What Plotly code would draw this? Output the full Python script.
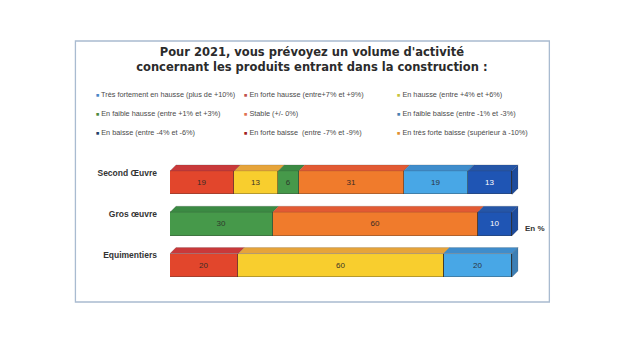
import plotly.graph_objects as go

# ---------------- data ----------------
categories = ["Second Œuvre", "Gros œuvre", "Equimentiers"]
series_names = [
    "Très fortement en hausse (plus de +10%)",
    "En forte hausse (entre+7% et +9%)",
    "En hausse (entre +4% et +6%)",
    "En faible hausse (entre +1% et +3%)",
    "Stable (+/- 0%)",
    "En faible baisse (entre -1% et -3%)",
    "En baisse (entre -4% et -6%)",
    "En forte baisse  (entre -7% et -9%)",
    "En très forte baisse (supérieur à -10%)",
]
tres_fortement_hausse = [0, 0, 0]
forte_hausse = [19, 0, 20]
hausse = [13, 0, 60]
faible_hausse = [6, 30, 0]
stable = [31, 60, 0]
faible_baisse = [19, 0, 20]
baisse = [13, 10, 0]
forte_baisse = [0, 0, 0]
tres_forte_baisse = [0, 0, 0]
series_values = [tres_fortement_hausse, forte_hausse, hausse, faible_hausse, stable,
                 faible_baisse, baisse, forte_baisse, tres_forte_baisse]

# ---------------- styles ----------------
front_colors = ["#4A86C8", "#E2462C", "#F8CE2E", "#46994A", "#F07B2C",
                "#48A7E6", "#1F55B4", "#A82A30", "#E49A30"]
legend_colors = ["#4A86C8", "#C0504D", "#C8C43C", "#4E8A3E", "#E07050",
                 "#4A80B0", "#23406A", "#A02020", "#E09030"]
top_colors = ["#3F7FC0", "#C9393A", "#E6A43A", "#3B8A43", "#E25A33",
              "#3F8DCC", "#2556A8", "#90252A", "#D08A28"]
side_colors = ["#3A72AE", "#B0332A", "#D9A628", "#357C3C", "#C8642A",
               "#3C7EB4", "#1D4B9C", "#80222A", "#C07E26"]
text_colors = ["#333", "#3a2c26", "#3a3426", "#2e3a2c", "#3a2c26",
               "#2c3440", "#FFFFFF", "#FFF", "#333"]
W = 0.57     # bar thickness (category units)
DX = 1.75    # 3D depth along x (percent units)
DY = 0.145   # 3D depth along y (category units)
FONT = "Liberation Sans, Arial, sans-serif"
legend_ids = ["legend", "legend2", "legend3"]   # one legend per column

ypos = list(range(len(categories)))
fig = go.Figure()

for k, (name, vals) in enumerate(zip(series_names, series_values)):
    fig.add_trace(go.Bar(
        y=ypos, x=vals, orientation="h", width=W, name=name,
        showlegend=False,
        marker=dict(color=front_colors[k], line=dict(color="rgba(50,50,50,0.55)", width=0.6)),
        text=[str(v) if v else "" for v in vals],
        textposition="inside", insidetextanchor="middle",
        textfont=dict(size=8, color=text_colors[k], family=FONT),
        constraintext="none", hoverinfo="skip",
    ))
    # legend entry: small coloured square glyph right next to the label (3 columns)
    fig.add_trace(go.Scatter(
        x=[None], y=[None], mode="markers",
        name=f'<span style="color:{legend_colors[k]};font-size:5.5px">■</span> {name}',
        legend=legend_ids[k % 3],
        marker=dict(symbol="square", size=1, color="rgba(0,0,0,0)",
                    line=dict(width=0, color="rgba(0,0,0,0)")),
        showlegend=True,
    ))

# 3D top faces and right side faces derived from the stacked (normalised) values
shapes = []
for i in ypos:
    total = sum(s[i] for s in series_values)
    cum = 0
    last = None
    ytop = i - W / 2
    for k, vals in enumerate(series_values):
        v = vals[i]
        if not v:
            continue
        x0 = cum / total * 100
        cum += v
        x1 = cum / total * 100
        shapes.append(dict(
            type="path", xref="x", yref="y", layer="above",
            path=f"M{x0},{ytop} L{x1},{ytop} L{x1 + DX},{ytop - DY} L{x0 + DX},{ytop - DY} Z",
            fillcolor=top_colors[k], line=dict(color="rgba(50,50,50,0.35)", width=0.5)))
        last = k
    xe = cum / total * 100
    shapes.append(dict(
        type="path", xref="x", yref="y", layer="above",
        path=f"M{xe},{ytop} L{xe + DX},{ytop - DY} L{xe + DX},{i + W / 2 - DY} L{xe},{i + W / 2} Z",
        fillcolor=side_colors[last], line=dict(color="rgba(50,50,50,0.35)", width=0.5)))

# outer frame
shapes.append(dict(type="rect", xref="paper", yref="paper",
                   x0=-0.271, x1=1.087, y0=-0.129, y1=1.976,
                   line=dict(color="#A9BBD0", width=1.3), fillcolor="rgba(0,0,0,0)", layer="below"))

legend_common = dict(orientation="v", yanchor="top", y=1.661, xanchor="left",
                     tracegroupgap=0, traceorder="normal",
                     font=dict(size=7.3, color="#4a4a4a", family=FONT),
                     bgcolor="rgba(0,0,0,0)")

fig.update_layout(
    width=620, height=350,
    margin=dict(l=170, r=101, t=162, b=64),
    paper_bgcolor="white", plot_bgcolor="white",
    barmode="stack", barnorm="percent", bargap=0,
    font=dict(family=FONT, color="#333"),
    title=dict(
        text="<b>Pour 2021, vous prévoyez un volume d'activité<br>concernant les produits entrant dans la construction :</b>",
        x=0.503, xref="container", xanchor="center",
        y=1 - 56 / 350, yref="container", yanchor="top",
        font=dict(size=11.5, color="#2b2b2b", family="DejaVu Sans, sans-serif"),
    ),
    xaxis=dict(range=[0, 100 + DX + 0.3], visible=False, fixedrange=True),
    yaxis=dict(range=[2.5, -0.5], tickvals=[i - 0.24 for i in ypos], ticktext=categories,
               showgrid=False, zeroline=False, showline=False, ticks="",
               ticklabelstandoff=12,
               tickfont=dict(size=8.5, color="#333", family=FONT, weight="bold")),
    legend=dict(x=-0.327, **legend_common),
    legend2=dict(x=0.0975, **legend_common),
    legend3=dict(x=0.536, **legend_common),
    shapes=shapes,
    annotations=[dict(text="<b>En %</b>", xref="paper", yref="y", x=1.045, y=1.1,
                      xanchor="center", showarrow=False,
                      font=dict(size=8, color="#333", family=FONT))],
    showlegend=True,
)

fig.write_html("out.html")
